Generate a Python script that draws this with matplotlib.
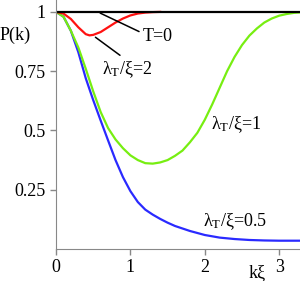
import numpy as np
import matplotlib
matplotlib.use('Agg')
import matplotlib.pyplot as plt

plt.rcParams['font.family'] = ['Liberation Serif', 'DejaVu Serif']
plt.rcParams['mathtext.fontset'] = 'custom'
plt.rcParams['mathtext.rm'] = 'Liberation Serif'
plt.rcParams['mathtext.it'] = 'Liberation Serif'

# values
k_red = [0, 0.1, 0.2, 0.3, 0.4, 0.45, 0.5, 0.6, 0.7, 0.8, 0.9, 1.0, 1.1, 1.2, 1.3, 1.4]
p_red = [1.0, 0.993, 0.97, 0.935, 0.906, 0.901, 0.903, 0.915, 0.935, 0.955, 0.972,
         0.985, 0.993, 0.997, 0.999, 1.0]

k_green = [0, 0.1, 0.2, 0.3, 0.4, 0.5, 0.6, 0.7, 0.8, 0.9, 1.0, 1.1, 1.2, 1.3, 1.4,
           1.5, 1.6, 1.7, 1.8, 1.9, 2.0, 2.1, 2.2, 2.3, 2.4, 2.5, 2.6, 2.7, 2.8,
           2.9, 3.0, 3.1, 3.2, 3.3]
p_green = [1.0, 0.98, 0.92, 0.85, 0.76, 0.665, 0.578, 0.51, 0.462, 0.425, 0.395,
           0.375, 0.362, 0.36, 0.365, 0.375, 0.393, 0.415, 0.45, 0.49, 0.545, 0.61,
           0.68, 0.75, 0.81, 0.86, 0.90, 0.93, 0.955, 0.972, 0.984, 0.991, 0.996, 0.998]

k_blue = [0, 0.1, 0.2, 0.3, 0.4, 0.5, 0.6, 0.7, 0.8, 0.9, 1.0, 1.1, 1.2, 1.3, 1.4,
          1.5, 1.6, 1.8, 2.0, 2.2, 2.4, 2.6, 2.8, 3.0, 3.3]
p_blue = [1.0, 0.98, 0.92, 0.83, 0.72, 0.628, 0.542, 0.458, 0.375, 0.303, 0.244,
          0.198, 0.166, 0.145, 0.127, 0.111, 0.097, 0.076, 0.059, 0.048, 0.042,
          0.038, 0.036, 0.035, 0.035]

k_black = [0, 3.3]
p_black = [1.0, 1.0]

xticks = [0, 1, 2, 3]
yticks = [0.25, 0.5, 0.75, 1]
ytick_labels = ['0.25', '0.5', '0.75', '1']

fig = plt.figure(figsize=(3.0, 2.81), dpi=100)
ax = fig.add_axes([0.1867, 0.1139, 0.8133, 0.886])

ax.plot(k_blue, p_blue, color='#2a2aff', lw=1.6)
ax.plot(k_green, p_green, color='#77ee11', lw=1.6)
ax.plot(k_red, p_red, color='#ff1111', lw=1.6)
ax.plot(k_black, p_black, color='black', lw=1.6)

ax.set_xlim(0, 3.28)
ax.set_ylim(0, 1.05)
ax.set_xticks(xticks)
ax.set_yticks(yticks)
ax.set_yticklabels(ytick_labels)
for s in ['top', 'right']:
    ax.spines[s].set_visible(False)
for s in ['left', 'bottom']:
    ax.spines[s].set_color('#888888')
ax.tick_params(colors='#888888', labelcolor='black', labelsize=13, length=4, width=1)

# labels
ax.text(-0.55, 0.9, 'P(k)', fontsize=13, ha='center', va='center', clip_on=False)
ax.text(2.7, -0.1, 'kξ', fontsize=13, ha='center', va='center', clip_on=False)

ax.text(1.17, 0.898, 'T=0', fontsize=13, ha='left', va='center')
ax.text(0.62, 0.755, r'$\mathrm{λ_T}$/ξ=2', fontsize=13, ha='left', va='center')
ax.text(2.09, 0.525, r'$\mathrm{λ_T}$/ξ=1', fontsize=13, ha='left', va='center')
ax.text(1.97, 0.115, r'$\mathrm{λ_T}$/ξ=0.5', fontsize=13, ha='left', va='center')

ax.annotate('', xy=(0.56, 1.0), xytext=(1.15, 0.912),
            arrowprops=dict(arrowstyle='-', color='black', lw=1.1))
ax.annotate('', xy=(0.5, 0.9), xytext=(0.89, 0.81),
            arrowprops=dict(arrowstyle='-', color='black', lw=1.1))

fig.savefig('out.png', dpi=100)
